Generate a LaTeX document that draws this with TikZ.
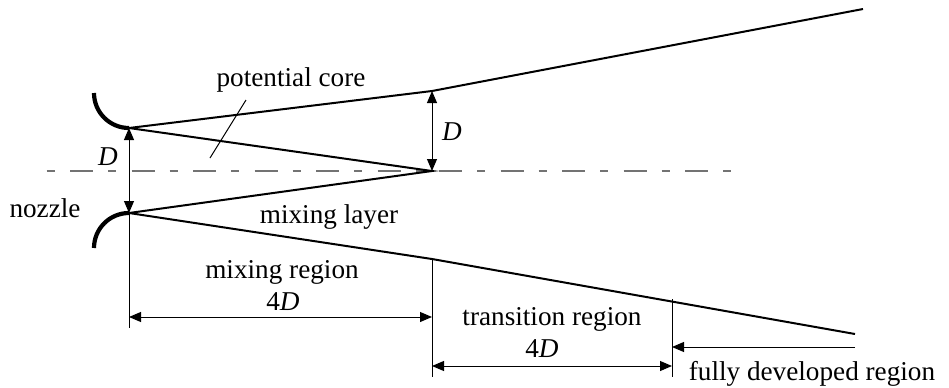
\documentclass[tikz,border=0pt]{standalone}
\usepackage{fontspec}
\setmainfont{Liberation Serif}
\usetikzlibrary{arrows.meta, calc}

\begin{document}
\begin{tikzpicture}[
    x=0.5pt, y=-0.5pt,
    every node/.style={font=\fontsize{13.6}{16}\selectfont, inner sep=0pt},
    jet/.style={line width=1pt, line join=miter},
    nozzle/.style={line width=2.1pt},
    axis/.style={black!55, line width=0.9pt,
                 dash pattern=on 4pt off 7.75pt on 11.5pt off 7.5pt},
    ext/.style={line width=0.5pt},
    dim/.style={line width=0.5pt,
                {Triangle[length=6pt, width=5pt]}-{Triangle[length=6pt, width=5pt]}},
    dimone/.style={line width=0.5pt, -{Triangle[length=6pt, width=5pt]}},
    lbl/.style={anchor=base},
]
\useasboundingbox (0,0) rectangle (949,387);

% Jet geometry
\coordinate (tipU)   at (129,128);
\coordinate (tipL)   at (129,213);
\coordinate (apex)   at (432,171);
\coordinate (upMid)  at (432,91);
\coordinate (upEnd)  at (863,9);
\coordinate (loMid)  at (432,259);
\coordinate (loEnd)  at (855,334);
\coordinate (axL)    at (46.5,171);
\coordinate (axR)    at (731,171);

% Nozzle lips
\draw[nozzle] (94,93) arc[start angle=180, end angle=270, radius=17.5pt] coordinate (nozU);
\draw[nozzle] (tipL) arc[start angle=90, end angle=180, radius=17.5pt] coordinate (nozL);

% Centre line
\draw[axis] (axL) -- (axR);

% Jet boundaries and potential core
\draw[jet] (tipU) -- (upMid) -- (upEnd);
\draw[jet] (tipL) -- (loMid) -- (loEnd);
\draw[jet] (tipU) -- (apex) -- (tipL);

% Diameter marks
\draw[dim] (tipU) -- (tipL);
\draw[dim] (upMid) -- (apex);
\node[lbl] (dL) at (108,165) {\textit{D}};
\node[lbl] (dR) at (452,140) {\textit{D}};

% Region extension lines
\coordinate (extA) at (129,328);
\coordinate (extB) at (432,377);
\coordinate (topC) at (672,299);
\coordinate (extC) at (672,377);
\draw[ext] (tipL) -- (extA);
\draw[ext] (loMid) -- (extB);
\draw[ext] (topC) -- (extC);

% Region dimensions
\coordinate (mixA) at (129,317);
\coordinate (mixB) at (432,317);
\coordinate (trA)  at (432,366);
\coordinate (trB)  at (672,366);
\coordinate (fdA)  at (855,347);
\coordinate (fdB)  at (672,347);
\draw[dim] (mixA) -- (mixB);
\draw[dim] (trA) -- (trB);
\draw[dimone] (fdA) -- (fdB);

% Labels
\node[lbl] (mixreg) at (282,278) {mixing region};
\node[lbl] (mixlen) at (283,310) {4\textit{D}};
\node[lbl] (trreg)  at (552,325) {transition region};
\node[lbl] (trlen)  at (542,357) {4\textit{D}};
\node[lbl] (fdreg)  at (812,380) {fully developed region};
\node[lbl] (core)   at (291,86)  {potential core};
\node[lbl] (layer)  at (329,223) {mixing layer};
\node[lbl] (noz)    at (45,217)  {nozzle};

% Leader to the core
\coordinate (leadA) at (210,158);
\coordinate (leadB) at (246,100);
\draw[ext] (leadA) -- (leadB);
\end{tikzpicture}
\end{document}
